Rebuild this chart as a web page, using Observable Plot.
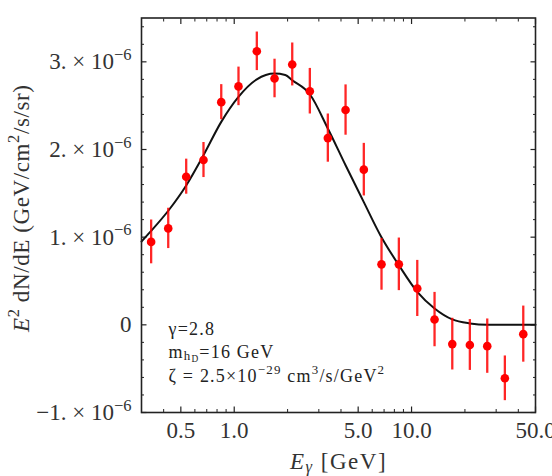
<!DOCTYPE html>
<html>
<head>
<meta charset="utf-8">
<script src="https://cdn.jsdelivr.net/npm/d3@7"></script>
<script src="https://cdn.jsdelivr.net/npm/@observablehq/plot@0.6"></script>
<style>
  html, body { margin: 0; padding: 0; background: #fff; overflow: hidden; }
</style>
</head>
<body>
<div id="chart"></div>
<script>
// Measured gamma-ray spectrum: bin energies (GeV), E^2 dN/dE and 1-sigma errors
const energy = [0.340, 0.4245, 0.536, 0.671, 0.845, 1.057, 1.341, 1.688, 2.124, 2.669, 3.372,
                4.245, 5.38, 6.77, 8.48, 10.77, 13.48, 16.97, 21.32, 26.72, 33.59, 42.66];
const flux = [0.946e-6, 1.10e-6, 1.69e-6, 1.88e-6, 2.54e-6, 2.72e-6, 3.12e-6, 2.81e-6, 2.97e-6, 2.665e-6, 2.13e-6,
              2.45e-6, 1.77e-6, 0.69e-6, 0.69e-6, 0.415e-6, 0.06e-6, -0.22e-6, -0.23e-6, -0.243e-6, -0.61e-6, -0.106e-6];
const fluxErr = [0.25e-6, 0.23e-6, 0.20e-6, 0.20e-6, 0.20e-6, 0.22e-6, 0.22e-6, 0.22e-6, 0.245e-6, 0.26e-6, 0.275e-6,
                 0.287e-6, 0.30e-6, 0.295e-6, 0.30e-6, 0.32e-6, 0.31e-6, 0.295e-6, 0.29e-6, 0.31e-6, 0.255e-6, 0.32e-6];

// Best-fit model spectrum (gamma = 2.8, m_hD = 16 GeV)
const modelEnergy = [0.3, 0.336, 0.428, 0.536, 0.671, 0.845, 1.057, 1.341, 1.688, 1.94, 2.124, 2.669, 3.372,
                     4.245, 5.38, 6.68, 8.48, 10.77, 13.48, 16.97, 21.32, 26.72, 50];
const modelFlux = [0.95e-6, 1.06e-6, 1.31e-6, 1.59e-6, 1.935e-6, 2.315e-6, 2.60e-6, 2.80e-6, 2.866e-6, 2.85e-6, 2.79e-6,
                   2.63e-6, 2.24e-6, 1.82e-6, 1.40e-6, 1.02e-6, 0.68e-6, 0.376e-6, 0.187e-6, 0.062e-6, 0.016e-6, 0, 0];

// Axis ticks and labels
const xTicks = [0.5, 1, 5, 10, 50];
const xTickLabels = ["0.5", "1.0", "5.0", "10.0", "50.0"];
const xMinorTicks = [0.3, 0.4, 0.6, 0.7, 0.8, 0.9, 2, 3, 4, 6, 7, 8, 9, 20, 30, 40];
const yTicks = [-1e-6, 0, 1e-6, 2e-6, 3e-6];
const yTickLabels = ["\u22121. \u00d7 10^{\u22126}", "0", "1. \u00d7 10^{\u22126}", "2. \u00d7 10^{\u22126}", "3. \u00d7 10^{\u22126}"];
const yMinorTicks = [-0.8e-6, -0.6e-6, -0.4e-6, -0.2e-6, 0.2e-6, 0.4e-6, 0.6e-6, 0.8e-6, 1.2e-6, 1.4e-6, 1.6e-6, 1.8e-6,
                     2.2e-6, 2.4e-6, 2.6e-6, 2.8e-6, 3.2e-6, 3.4e-6];

const xLabel = "*E*_{*\u03b3*} [GeV]";
const yLabel = "*E*^{2} dN/dE (GeV/cm^{2}/s/sr)";
const notes = ["\u03b3=2.8", "m_{h_{D}}=16 GeV", "\u03b6 = 2.5\u00d710^{\u221229} cm^{3}/s/GeV^{2}"];

const points = energy.map((e, i) => ({e, v: flux[i], err: fluxErr[i]}));
const model = modelEnergy.map((e, i) => ({e, v: modelFlux[i]}));

const ink = "#222";
const textInk = "#333";
const tickAxes = (anchor) => [
  Plot.axisX(xTicks, {anchor, tickSize: -5.5, text: null, label: null, stroke: ink, strokeWidth: 1.2}),
  Plot.axisX(xMinorTicks, {anchor, tickSize: -3, text: null, label: null, stroke: ink, strokeWidth: 1}),
];
const tickAxesY = (anchor) => [
  Plot.axisY(yTicks, {anchor, tickSize: -5.5, text: null, label: null, stroke: ink, strokeWidth: 1.2}),
  Plot.axisY(yMinorTicks, {anchor, tickSize: -3, text: null, label: null, stroke: ink, strokeWidth: 1}),
];

const chart = Plot.plot({
  width: 552,
  height: 476,
  marginLeft: 141,
  marginRight: 17,
  marginTop: 17.5,
  marginBottom: 64,
  style: {fontFamily: "'Liberation Serif', 'Times New Roman', serif", fontSize: "23px", color: textInk, background: "#fff", overflow: "hidden"},
  x: {type: "log", domain: [0.3, 50]},
  y: {domain: [-1e-6, 3.5e-6]},
  marks: [
    ...tickAxes("bottom"),
    ...tickAxes("top"),
    ...tickAxesY("left"),
    ...tickAxesY("right"),
    // x tick labels under the frame
    Plot.text(xTicks, {x: d => d, text: (d, i) => xTickLabels[i], frameAnchor: "bottom", lineAnchor: "top", dy: 9, fill: textInk}),
    Plot.axisY(yTicks, {anchor: "left", tickSize: 0, tickPadding: 10, tickFormat: (d, i) => yTickLabels[i], label: null, fill: textInk}),
    Plot.line(model, {x: "e", y: "v", stroke: "#111", strokeWidth: 2, curve: "monotone-x"}),
    Plot.ruleX(points, {x: "e", y1: d => d.v - d.err, y2: d => d.v + d.err, stroke: "#f00", strokeWidth: 2.3, strokeOpacity: 0.85}),
    Plot.dot(points, {x: "e", y: "v", r: 4.3, fill: "#f00", stroke: "none"}),
    Plot.frame({stroke: ink, strokeWidth: 1.6}),
    Plot.text([xLabel], {frameAnchor: "bottom", textAnchor: "middle", lineAnchor: "bottom", dy: 56, fill: textInk}),
    Plot.text([yLabel], {frameAnchor: "left", textAnchor: "middle", lineAnchor: "bottom", rotate: -90, dx: -113, dy: -7, fill: textInk}),
    ...notes.map((t, i) => Plot.text([t], {
      frameAnchor: "bottom-left", textAnchor: "start", lineAnchor: "bottom",
      dx: 27, dy: [-78, -55, -31][i], fontSize: 18, fill: "#222"
    }))
  ]
});

document.getElementById("chart").appendChild(chart);

// Slightly open letter spacing for the axis titles and the fit parameters
chart.querySelectorAll("text").forEach(el => {
  const s = el.textContent;
  if (s === xLabel) el.setAttribute("letter-spacing", "1.5");
  else if (s === yLabel) el.setAttribute("letter-spacing", "0.6");
  else if (notes.includes(s)) el.setAttribute("letter-spacing", "1.2");
});

// Turn ^{..} / _{..} / *..* markup into superscript, subscript and italic tspans
const svgNS = "http://www.w3.org/2000/svg";
function richText(el) {
  const src = el.textContent;
  if (!/[\^_]\{|\*/.test(src)) return;
  const fs = parseFloat(getComputedStyle(el).fontSize);
  el.textContent = "";
  const stack = [];
  let italic = false, curShift = 0, buf = "";
  const flush = () => {
    if (!buf) return;
    let shift = 0, size = fs;
    for (const k of stack) {
      if (k === "^") shift -= size * 0.4; else shift += size * 0.14;
      size *= 0.72;
    }
    const t = document.createElementNS(svgNS, "tspan");
    if (shift !== curShift) t.setAttribute("dy", (shift - curShift).toFixed(2));
    if (size !== fs) t.setAttribute("font-size", size.toFixed(2));
    if (italic) t.setAttribute("font-style", "italic");
    t.textContent = buf;
    el.appendChild(t);
    curShift = shift;
    buf = "";
  };
  for (let i = 0; i < src.length; i++) {
    const c = src[i];
    if ((c === "^" || c === "_") && src[i + 1] === "{") { flush(); stack.push(c); i++; }
    else if (c === "}" && stack.length) { flush(); stack.pop(); }
    else if (c === "*") { flush(); italic = !italic; }
    else buf += c;
  }
  flush();
}
chart.querySelectorAll("text").forEach(richText);
</script>
</body>
</html>
